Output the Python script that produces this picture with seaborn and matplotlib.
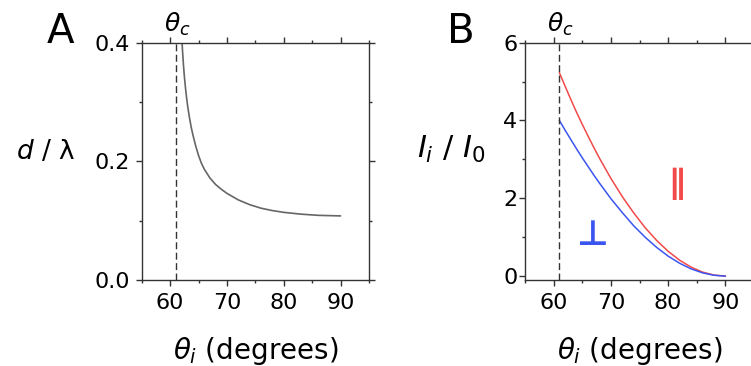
import numpy as np
import pandas as pd
import matplotlib
matplotlib.use("Agg")
import matplotlib.pyplot as plt
from matplotlib.ticker import MultipleLocator, FormatStrFormatter
import seaborn as sns

# critical angle (degrees)
theta_c = 61.0

# panel A: penetration depth d / lambda vs incidence angle
theta_a = [62.1, 62.2, 62.35, 62.5, 62.7, 62.9, 63.1, 63.4, 63.7, 64.0, 64.5,
           65.0, 65.5, 66.0, 67.0, 68.0, 69.0, 70.0, 72.0, 74.0, 76.0, 78.0,
           80.0, 83.0, 86.0, 90.0]
depth = [0.400, 0.384, 0.362, 0.344, 0.324, 0.307, 0.292, 0.274, 0.258, 0.245,
         0.226, 0.210, 0.197, 0.187, 0.172, 0.161, 0.153, 0.146, 0.135, 0.127,
         0.121, 0.117, 0.114, 0.111, 0.109, 0.108]

# panel B: evanescent intensity I_i / I_0 for both polarisations
theta_b = [61, 62, 63, 64, 65, 66, 67, 68, 70, 72, 74, 76, 78, 80, 82, 84, 86, 88, 90]
i_par = [5.23, 4.88, 4.54, 4.21, 3.90, 3.60, 3.31, 3.03, 2.51, 2.04, 1.62, 1.24,
         0.915, 0.637, 0.408, 0.230, 0.103, 0.026, 0.0]
i_perp = [4.00, 3.75, 3.51, 3.27, 3.04, 2.82, 2.60, 2.39, 1.99, 1.63, 1.29, 0.996,
          0.736, 0.513, 0.330, 0.186, 0.083, 0.021, 0.0]

df_a = pd.DataFrame({"theta": theta_a, "d": depth})
df_b = pd.DataFrame({"theta": theta_b * 2,
                     "I": i_par + i_perp,
                     "pol": ["par"] * len(theta_b) + ["perp"] * len(theta_b)})

sns.set_style("ticks")
plt.rcParams["font.family"] = ["DejaVu Sans"]
plt.rcParams["mathtext.fontset"] = "dejavusans"
plt.rcParams["text.color"] = "black"
plt.rcParams["axes.labelcolor"] = "black"
plt.rcParams["xtick.labelcolor"] = "black"
plt.rcParams["ytick.labelcolor"] = "black"

RED = "#f24a4a"
BLUE = "#3b55f0"
AXC = "#333333"

fig = plt.figure(figsize=(7.51, 3.66), dpi=100)
ax_a = fig.add_axes([0.1887, 0.235, 0.3026, 0.6484])
ax_b = fig.add_axes([0.6991, 0.235, 0.3050, 0.6484])

sns.lineplot(data=df_a, x="theta", y="d", ax=ax_a, color="#666666", lw=1.2)
sns.lineplot(data=df_b, x="theta", y="I", hue="pol", ax=ax_b,
             palette={"par": RED, "perp": BLUE}, lw=1.1, legend=False)

for ax in (ax_a, ax_b):
    ax.axvline(theta_c, color=AXC, lw=1.0, dashes=(5, 2.5))
    ax.set_xlim(55, 95)
    ax.xaxis.set_major_locator(MultipleLocator(10))
    ax.xaxis.set_minor_locator(MultipleLocator(5))
    for s in ax.spines.values():
        s.set_visible(True)
        s.set_color(AXC)
        s.set_linewidth(1.0)
    ax.tick_params(which="both", direction="out", top=True, right=True,
                   labeltop=False, labelright=False, color=AXC, width=1.0,
                   labelsize=16)
    ax.tick_params(which="major", length=4.5)
    ax.tick_params(which="minor", length=2.5)
    ax.tick_params(axis="x", pad=5)
    ax.set_xlabel(r"$\theta_i$ (degrees)", fontsize=20)
    ax.xaxis.set_label_coords(0.5, -0.30)
    ax.xaxis.label.set_va("center")
    ax.text(61.2, 1.045, r"$\theta_c$", transform=ax.get_xaxis_transform(),
            ha="center", va="baseline", fontsize=18)

# panel A axes
ax_a.set_ylim(0, 0.4)
ax_a.yaxis.set_major_locator(MultipleLocator(0.2))
ax_a.yaxis.set_minor_locator(MultipleLocator(0.1))
ax_a.yaxis.set_major_formatter(FormatStrFormatter("%.1f"))
ax_a.tick_params(axis="y", pad=4)
ax_a.set_ylabel(r"$d$ / λ", fontsize=19, rotation=0, ha="center", va="center")
ax_a.yaxis.set_label_coords(-0.425, 0.54)

# panel B axes
ax_b.set_ylim(-0.1, 6)
ax_b.yaxis.set_major_locator(MultipleLocator(2))
ax_b.yaxis.set_minor_locator(MultipleLocator(1))
ax_b.tick_params(axis="y", pad=1)
ax_b.set_ylabel(r"$I_i\ /\ I_\mathit{0}$", fontsize=22, rotation=0,
                ha="center", va="center")
ax_b.yaxis.set_label_coords(-0.32, 0.55)

ax_b.text(81.5, 2.38, "∥", color=RED, fontsize=24, fontweight="bold",
          ha="center", va="center")
ax_b.text(66.8, 1.05, "⊥", color=BLUE, fontsize=25, fontweight="bold",
          ha="center", va="center")

fig.text(47 / 751, 1 - 43 / 366, "A", fontsize=29, va="baseline", ha="left")
fig.text(447 / 751, 1 - 43 / 366, "B", fontsize=29, va="baseline", ha="left")

fig.savefig("out.png", dpi=100)
